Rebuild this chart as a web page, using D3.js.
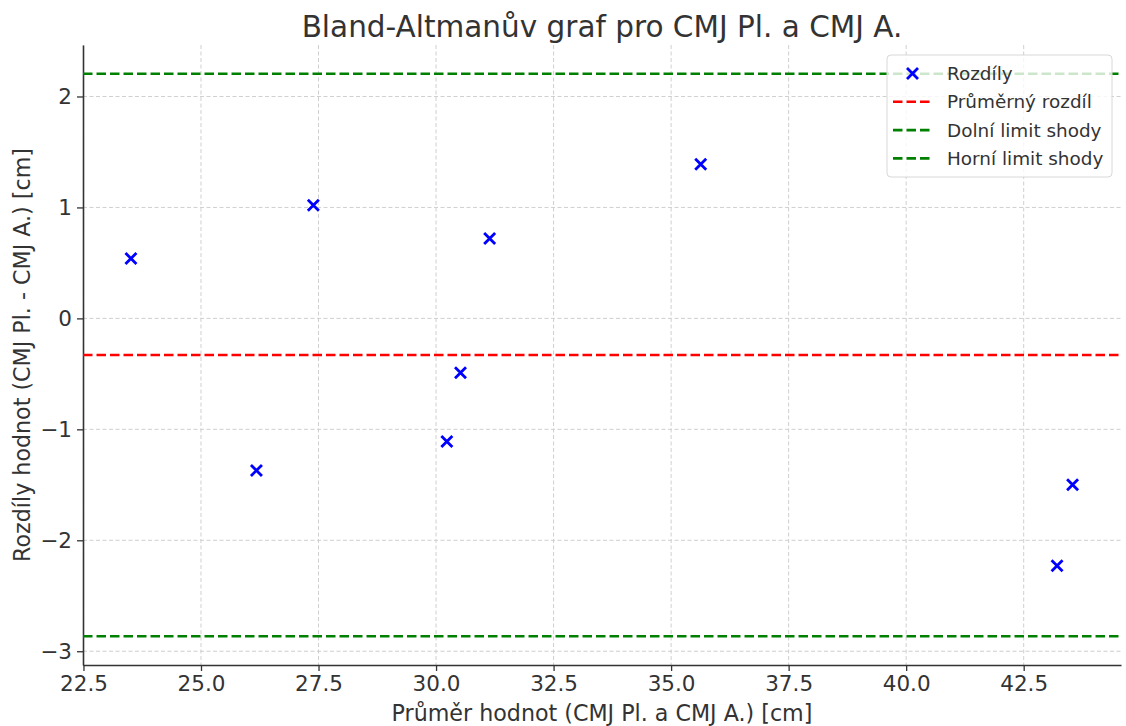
<!DOCTYPE html>
<head>
  <meta charset="utf-8">
  <script src="https://d3js.org/d3.v7.min.js"></script>
  <style>
    body { margin: 0; background: #fff; }
    text { font-family: "DejaVu Sans", sans-serif; fill: #333; }
  </style>
</head>
<body>
  <script>
    // prumer a rozdil dvou mereni
    var prumery = [23.51, 26.18, 27.39, 30.23, 30.52, 31.14, 35.63, 43.21, 43.54];
    var rozdily = [0.54, -1.37, 1.02, -1.11, -0.49, 0.72, 1.39, -2.23, -1.50];

    // vodorovne cary: prumerny rozdil a limity shody
    var limitNames = ['Průměrný rozdíl', 'Dolní limit shody', 'Horní limit shody'];
    var limitValues = [-0.33, -2.865, 2.205];
    var limitColors = ['#ff0000', '#008000', '#008000'];

    var xTicks = [22.5, 25.0, 27.5, 30.0, 32.5, 35.0, 37.5, 40.0, 42.5];
    var yTicks = [-3, -2, -1, 0, 1, 2];

    var outerWidth = 1126,
      outerHeight = 726;

    var margin = { top: 45, left: 83, right: 5, bottom: 61 };

    var width = outerWidth - margin.left - margin.right,
      height = outerHeight - margin.top - margin.bottom;

    var xScale = d3.scaleLinear().domain([22.49, 44.57]).range([0, width]);
    var yScale = d3.scaleLinear().domain([-3.124, 2.464]).range([height, 0]);

    var root = d3.select("body").append("svg")
      .attr("width", outerWidth)
      .attr("height", outerHeight);

    var svg = root.append("g")
      .attr("transform", "translate(" + margin.left + " " + margin.top + ")");

    // mrizka
    svg.append("g").selectAll("line").data(xTicks).enter().append("line")
      .attr("x1", function(d) { return xScale(d); })
      .attr("x2", function(d) { return xScale(d); })
      .attr("y1", 0).attr("y2", height)
      .attr("stroke", "#cfcfcf").attr("stroke-width", 1)
      .attr("stroke-dasharray", "4,2.5");

    svg.append("g").selectAll("line").data(yTicks).enter().append("line")
      .attr("y1", function(d) { return yScale(d); })
      .attr("y2", function(d) { return yScale(d); })
      .attr("x1", 0).attr("x2", width)
      .attr("stroke", "#cfcfcf").attr("stroke-width", 1)
      .attr("stroke-dasharray", "4,2.5");

    // osy
    var xAxis = svg.append("g")
      .attr("transform", "translate(0," + height + ")")
      .call(d3.axisBottom(xScale).tickValues(xTicks).tickFormat(d3.format(".1f")).tickSizeInner(6).tickSizeOuter(0).tickPadding(5));

    var yAxis = svg.append("g")
      .call(d3.axisLeft(yScale).tickValues(yTicks).tickFormat(function(d) { return d < 0 ? "\u2212" + Math.abs(d) : d; }).tickSizeInner(6).tickSizeOuter(0).tickPadding(5));

    [xAxis, yAxis].forEach(function(a) {
      a.select(".domain").attr("stroke", "#333").attr("stroke-width", 1.6);
      a.selectAll(".tick line").attr("stroke", "#333").attr("stroke-width", 1.3);
      a.selectAll(".tick text").style("font-size", "21.5px").attr("fill", "#333");
    });

    // limity
    svg.append("g").selectAll("line").data(limitValues).enter().append("line")
      .attr("x1", 0).attr("x2", width)
      .attr("y1", function(d) { return yScale(d); })
      .attr("y2", function(d) { return yScale(d); })
      .attr("stroke", function(d, i) { return limitColors[i]; })
      .attr("stroke-width", 2.6)
      .attr("stroke-dasharray", "9.5,4");

    // body - krizky
    var cross = 5.5;
    var points = svg.append("g").selectAll("path").data(prumery).enter().append("path")
      .attr("d", function(d, i) {
        var cx = xScale(d), cy = yScale(rozdily[i]);
        return "M" + (cx - cross) + "," + (cy - cross) + "L" + (cx + cross) + "," + (cy + cross) +
          "M" + (cx - cross) + "," + (cy + cross) + "L" + (cx + cross) + "," + (cy - cross);
      })
      .attr("stroke", "#0000ff").attr("stroke-width", 2.8).attr("fill", "none");

    // legenda
    var legend = root.append("g").attr("transform", "translate(887,55)");
    legend.append("rect")
      .attr("width", 225).attr("height", 122)
      .attr("rx", 4)
      .attr("fill", "#fff").attr("fill-opacity", 0.8)
      .attr("stroke", "#d8d8d8").attr("stroke-width", 1);

    var legendNames = ['Rozdíly'].concat(limitNames);
    var rows = legend.selectAll("g.row").data(legendNames).enter().append("g")
      .attr("class", "row")
      .attr("transform", function(d, i) { return "translate(0," + (18.5 + i * 28.3) + ")"; });

    rows.each(function(d, i) {
      var g = d3.select(this);
      if (i === 0) {
        g.append("path")
          .attr("d", "M20,-5.5L31,5.5M20,5.5L31,-5.5")
          .attr("stroke", "#0000ff").attr("stroke-width", 2.8);
      } else {
        g.append("line")
          .attr("x1", 6).attr("x2", 44).attr("y1", 0).attr("y2", 0)
          .attr("stroke", limitColors[i - 1]).attr("stroke-width", 2.6)
          .attr("stroke-dasharray", "9.5,4");
      }
      g.append("text")
        .attr("x", 60).attr("y", 0).attr("dy", "0.35em")
        .style("font-size", "18.4px")
        .text(d);
    });

    // popisky
    root.append("text")
      .attr("x", margin.left + width / 2).attr("y", 37)
      .attr("text-anchor", "middle")
      .style("font-size", "29.5px")
      .text("Bland-Altmanův graf pro CMJ Pl. a CMJ A.");

    root.append("text")
      .attr("x", margin.left + width / 2).attr("y", 721)
      .attr("text-anchor", "middle")
      .style("font-size", "22.2px")
      .text("Průměr hodnot (CMJ Pl. a CMJ A.) [cm]");

    root.append("text")
      .attr("transform", "translate(30," + (margin.top + height / 2) + ") rotate(-90)")
      .attr("text-anchor", "middle")
      .style("font-size", "22.2px")
      .text("Rozdíly hodnot (CMJ Pl. - CMJ A.) [cm]");
  </script>
</body>
